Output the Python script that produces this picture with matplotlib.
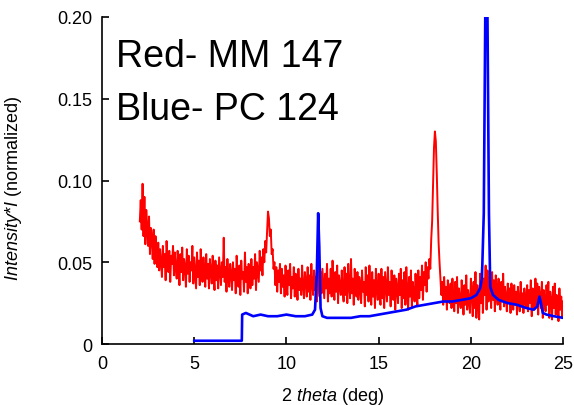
import numpy as np
import matplotlib
matplotlib.use("Agg")
import matplotlib.pyplot as plt

plt.rcParams['font.family'] = ['Liberation Sans', 'DejaVu Sans']
plt.rcParams['mathtext.fontset'] = 'custom'
plt.rcParams['mathtext.rm'] = 'Liberation Sans'
plt.rcParams['mathtext.it'] = 'Liberation Sans:italic'

# red trace (MM 147), one reading every 0.05 deg from 2.05 to 25.0 (one row per degree)
red_x = np.round(np.linspace(2.05, 25.0, 460), 2)
red_y = [
    0.075, 0.088, 0.070, 0.098, 0.066, 0.090, 0.061, 0.082, 0.072, 0.060, 0.078, 0.055, 0.071, 0.064, 0.052, 0.070, 0.049, 0.066, 0.058, 0.047,
    0.062, 0.045, 0.058, 0.050, 0.041, 0.060, 0.047, 0.055, 0.039, 0.063, 0.052, 0.044, 0.057, 0.038, 0.054, 0.049, 0.060, 0.042, 0.056, 0.046,
    0.040, 0.057, 0.048, 0.036, 0.055, 0.044, 0.059, 0.039, 0.052, 0.047, 0.035, 0.058, 0.043, 0.054, 0.038, 0.050, 0.045, 0.060, 0.037, 0.053,
    0.044, 0.034, 0.056, 0.041, 0.051, 0.036, 0.058, 0.046, 0.038, 0.053, 0.043, 0.035, 0.055, 0.040, 0.049, 0.034, 0.052, 0.045, 0.037, 0.054,
    0.042, 0.033, 0.051, 0.039, 0.048, 0.034, 0.053, 0.044, 0.036, 0.050, 0.041, 0.065, 0.038, 0.047, 0.032, 0.052, 0.040, 0.035, 0.049, 0.043,
    0.033, 0.050, 0.039, 0.046, 0.031, 0.054, 0.042, 0.035, 0.048, 0.030, 0.051, 0.040, 0.044, 0.032, 0.056, 0.038, 0.047, 0.031, 0.049, 0.041,
    0.034, 0.052, 0.036, 0.047, 0.040, 0.055, 0.033, 0.050, 0.044, 0.038, 0.057, 0.045, 0.053, 0.042, 0.058, 0.050, 0.063, 0.056, 0.068, 0.081,
    0.077, 0.066, 0.070, 0.055, 0.058, 0.046, 0.050, 0.036, 0.047, 0.032, 0.045, 0.038, 0.049, 0.031, 0.046, 0.035, 0.042, 0.029, 0.048, 0.037,
    0.030, 0.045, 0.036, 0.049, 0.028, 0.041, 0.034, 0.047, 0.029, 0.043, 0.038, 0.027, 0.046, 0.033, 0.040, 0.030, 0.048, 0.035, 0.028, 0.044,
    0.039, 0.029, 0.047, 0.032, 0.042, 0.027, 0.049, 0.036, 0.030, 0.045, 0.033, 0.041, 0.026, 0.048, 0.035, 0.029, 0.044, 0.031, 0.046, 0.037,
    0.028, 0.043, 0.034, 0.049, 0.026, 0.040, 0.031, 0.046, 0.029, 0.051, 0.036, 0.027, 0.044, 0.032, 0.048, 0.025, 0.042, 0.035, 0.030, 0.045,
    0.033, 0.026, 0.047, 0.030, 0.043, 0.025, 0.049, 0.035, 0.028, 0.052, 0.031, 0.040, 0.024, 0.046, 0.034, 0.029, 0.044, 0.027, 0.041, 0.036,
    0.025, 0.045, 0.032, 0.038, 0.023, 0.047, 0.030, 0.042, 0.026, 0.048, 0.033, 0.024, 0.044, 0.029, 0.039, 0.022, 0.046, 0.034, 0.027, 0.043,
    0.031, 0.024, 0.046, 0.028, 0.041, 0.022, 0.044, 0.035, 0.026, 0.047, 0.030, 0.038, 0.023, 0.045, 0.032, 0.027, 0.042, 0.021, 0.040, 0.034,
    0.025, 0.043, 0.030, 0.046, 0.022, 0.039, 0.028, 0.044, 0.024, 0.047, 0.033, 0.021, 0.041, 0.029, 0.045, 0.023, 0.038, 0.031, 0.026, 0.043,
    0.030, 0.024, 0.045, 0.028, 0.041, 0.033, 0.048, 0.027, 0.044, 0.036, 0.050, 0.032, 0.047, 0.040, 0.052, 0.046, 0.064, 0.075, 0.098, 0.120,
    0.130, 0.124, 0.105, 0.082, 0.062, 0.050, 0.040, 0.030, 0.038, 0.024, 0.041, 0.027, 0.035, 0.021, 0.039, 0.030, 0.025, 0.037, 0.022, 0.040,
    0.028, 0.020, 0.038, 0.025, 0.041, 0.019, 0.034, 0.027, 0.022, 0.039, 0.030, 0.018, 0.036, 0.024, 0.042, 0.021, 0.033, 0.026, 0.019, 0.040,
    0.031, 0.017, 0.038, 0.022, 0.044, 0.016, 0.036, 0.028, 0.015, 0.043, 0.025, 0.047, 0.019, 0.040, 0.030, 0.048, 0.021, 0.045, 0.026, 0.041,
    0.033, 0.022, 0.044, 0.027, 0.039, 0.020, 0.042, 0.031, 0.024, 0.040, 0.028, 0.021, 0.038, 0.026, 0.043, 0.023, 0.035, 0.029, 0.020, 0.037,
    0.025, 0.034, 0.019, 0.037, 0.028, 0.021, 0.036, 0.024, 0.032, 0.018, 0.035, 0.027, 0.020, 0.038, 0.023, 0.031, 0.019, 0.034, 0.026, 0.022,
    0.036, 0.020, 0.033, 0.025, 0.039, 0.017, 0.034, 0.028, 0.021, 0.040, 0.024, 0.037, 0.018, 0.035, 0.029, 0.022, 0.038, 0.016, 0.033, 0.027,
    0.020, 0.036, 0.024, 0.038, 0.016, 0.032, 0.027, 0.015, 0.035, 0.022, 0.037, 0.018, 0.030, 0.025, 0.014, 0.034, 0.021, 0.029, 0.016, 0.026,
]

# blue trace (PC 124)
blue_x = [5.0, 7.58, 7.6, 7.8, 8.2, 8.6, 9.0, 9.5, 10.0, 10.5, 11.0, 11.4,
          11.55, 11.65, 11.72, 11.78, 11.85, 11.95, 12.2, 12.6, 13.0, 13.5,
          14.0, 14.5, 15.0, 15.5, 16.0, 16.5, 17.0, 17.5, 18.0, 18.5, 19.0,
          19.5, 20.0, 20.3, 20.5, 20.6, 20.7, 20.78, 20.83, 20.9, 20.98,
          21.05, 21.2, 21.5, 22.0, 22.5, 23.0, 23.4, 23.6, 23.72, 23.8, 23.9,
          24.1, 24.5, 25.0]
blue_y = [0.002, 0.002, 0.018, 0.019, 0.017, 0.018, 0.017, 0.017, 0.018,
          0.017, 0.017, 0.018, 0.021, 0.045, 0.080, 0.060, 0.022, 0.017,
          0.016, 0.016, 0.016, 0.016, 0.017, 0.017, 0.018, 0.019, 0.020,
          0.021, 0.023, 0.024, 0.025, 0.026, 0.026, 0.027, 0.028, 0.030,
          0.034, 0.040, 0.080, 0.200, 0.200, 0.200, 0.080, 0.035, 0.030,
          0.027, 0.025, 0.024, 0.022, 0.021, 0.023, 0.029, 0.025, 0.019,
          0.018, 0.017, 0.016]

x_ticks = [0, 5, 10, 15, 20, 25]
y_ticks = [0, 0.05, 0.10, 0.15, 0.20]
y_tick_labels = ['0', '0.05', '0.10', '0.15', '0.20']

fig = plt.figure(figsize=(5.74, 4.06), dpi=100)
ax = fig.add_axes([0.1777, 0.1502, 0.8033, 0.8055])

ax.plot(red_x, red_y, color='#ff0000', lw=1.4)
ax.plot(blue_x, blue_y, color='#0000ff', lw=1.9)

ax.set_xlim(0, 25)
ax.set_ylim(0, 0.20)
ax.set_xticks(x_ticks)
ax.set_xticklabels([str(t) for t in x_ticks])
ax.set_yticks(y_ticks)
ax.set_yticklabels(y_tick_labels)
ax.tick_params(direction='in', length=5, width=1.2, labelsize=13)
ax.tick_params(axis='x', pad=8)
ax.tick_params(axis='y', pad=7)

for s in ['top', 'right']:
    ax.spines[s].set_visible(False)
for s in ['left', 'bottom']:
    ax.spines[s].set_linewidth(1.2)

ax.set_xlabel(r'$\mathit{2\ theta}$ (deg)', fontsize=13)
ax.set_ylabel(r'$\mathit{Intensity{*}I}$ (normalized)', fontsize=13)
ax.xaxis.set_label_coords(0.5, -0.125)
ax.yaxis.set_label_coords(-0.17, 0.48)

fig.text(116 / 574, 1 - 67 / 406, 'Red- MM 147', fontsize=27, va='baseline')
fig.text(116 / 574, 1 - 120 / 406, 'Blue- PC 124', fontsize=27, va='baseline')

fig.savefig('out.png', dpi=100)
